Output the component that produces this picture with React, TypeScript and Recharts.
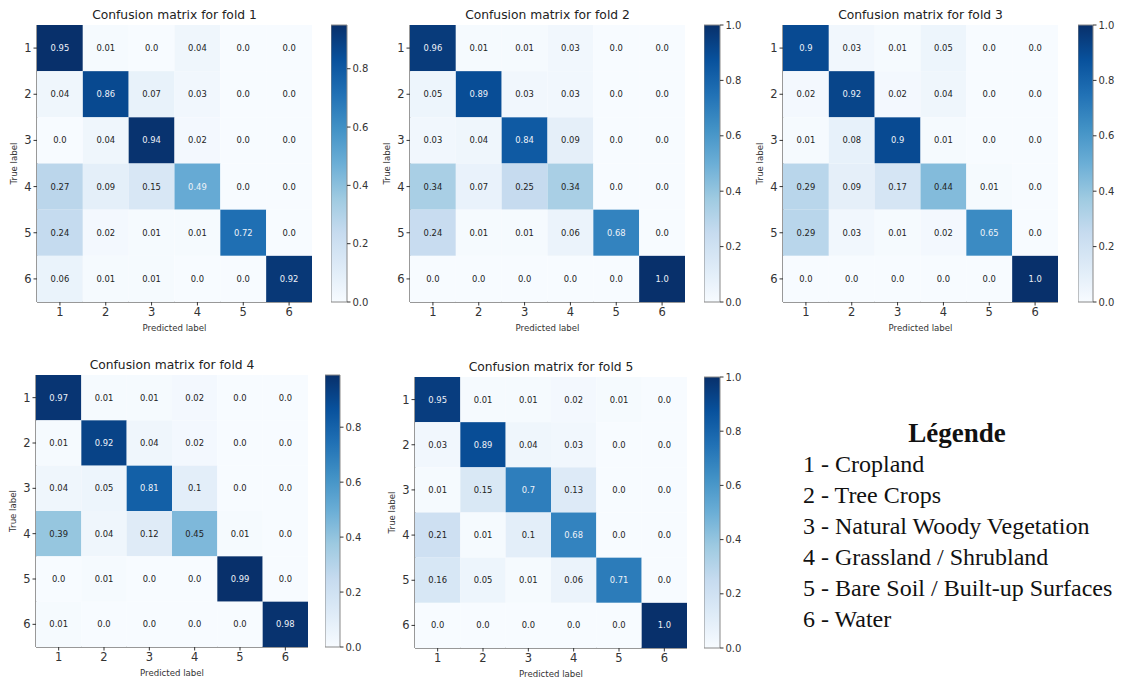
import React from 'react';
import { ScatterChart, Scatter, XAxis, YAxis, BarChart, Bar } from 'recharts';

const classLabels = [1, 2, 3, 4, 5, 6];

const fold1 = [
  [0.95, 0.01, 0.0, 0.04, 0.0, 0.0],
  [0.04, 0.86, 0.07, 0.03, 0.0, 0.0],
  [0.0, 0.04, 0.94, 0.02, 0.0, 0.0],
  [0.27, 0.09, 0.15, 0.49, 0.0, 0.0],
  [0.24, 0.02, 0.01, 0.01, 0.72, 0.0],
  [0.06, 0.01, 0.01, 0.0, 0.0, 0.92],
];
const fold2 = [
  [0.96, 0.01, 0.01, 0.03, 0.0, 0.0],
  [0.05, 0.89, 0.03, 0.03, 0.0, 0.0],
  [0.03, 0.04, 0.84, 0.09, 0.0, 0.0],
  [0.34, 0.07, 0.25, 0.34, 0.0, 0.0],
  [0.24, 0.01, 0.01, 0.06, 0.68, 0.0],
  [0.0, 0.0, 0.0, 0.0, 0.0, 1.0],
];
const fold3 = [
  [0.9, 0.03, 0.01, 0.05, 0.0, 0.0],
  [0.02, 0.92, 0.02, 0.04, 0.0, 0.0],
  [0.01, 0.08, 0.9, 0.01, 0.0, 0.0],
  [0.29, 0.09, 0.17, 0.44, 0.01, 0.0],
  [0.29, 0.03, 0.01, 0.02, 0.65, 0.0],
  [0.0, 0.0, 0.0, 0.0, 0.0, 1.0],
];
const fold4 = [
  [0.97, 0.01, 0.01, 0.02, 0.0, 0.0],
  [0.01, 0.92, 0.04, 0.02, 0.0, 0.0],
  [0.04, 0.05, 0.81, 0.1, 0.0, 0.0],
  [0.39, 0.04, 0.12, 0.45, 0.01, 0.0],
  [0.0, 0.01, 0.0, 0.0, 0.99, 0.0],
  [0.01, 0.0, 0.0, 0.0, 0.0, 0.98],
];
const fold5 = [
  [0.95, 0.01, 0.01, 0.02, 0.01, 0.0],
  [0.03, 0.89, 0.04, 0.03, 0.0, 0.0],
  [0.01, 0.15, 0.7, 0.13, 0.0, 0.0],
  [0.21, 0.01, 0.1, 0.68, 0.0, 0.0],
  [0.16, 0.05, 0.01, 0.06, 0.71, 0.0],
  [0.0, 0.0, 0.0, 0.0, 0.0, 1.0],
];

const folds = [fold1, fold2, fold3, fold4, fold5];
const foldTitles = [
  'Confusion matrix for fold 1',
  'Confusion matrix for fold 2',
  'Confusion matrix for fold 3',
  'Confusion matrix for fold 4',
  'Confusion matrix for fold 5',
];
const colorbarTicks = [0, 0.2, 0.4, 0.6, 0.8, 1.0];
const xAxisTitle = 'Predicted label';
const yAxisTitle = 'True label';
const legendTitle = 'Légende';
const legendItems = [
  '1 - Cropland',
  '2 - Tree Crops',
  '3 - Natural Woody Vegetation',
  '4 - Grassland / Shrubland',
  '5 - Bare Soil / Built-up Surfaces',
  '6 - Water',
];

const BLUES = ['#f7fbff', '#deebf7', '#c6dbef', '#9ecae1', '#6baed6', '#4292c6', '#2171b5', '#08519c', '#08306b'];

function hexToRgb(h: string) {
  return [parseInt(h.slice(1, 3), 16), parseInt(h.slice(3, 5), 16), parseInt(h.slice(5, 7), 16)];
}
function blues(t: number) {
  const tt = Math.max(0, Math.min(1, t));
  const p = tt * (BLUES.length - 1);
  const i = Math.min(BLUES.length - 2, Math.floor(p));
  const f = p - i;
  const a = hexToRgb(BLUES[i]);
  const b = hexToRgb(BLUES[i + 1]);
  const c = a.map((v, k) => Math.round(v + (b[k] - v) * f));
  return `rgb(${c[0]},${c[1]},${c[2]})`;
}
function fmt(v: number) {
  const s = String(v);
  return s.includes('.') ? s : s + '.0';
}

const layouts = [
  { plotLeft: 37, plotTop: 25, plotW: 275, plotH: 277, cbLeft: 331, cbW: 16 },
  { plotLeft: 410, plotTop: 25, plotW: 275, plotH: 277, cbLeft: 704, cbW: 16 },
  { plotLeft: 783, plotTop: 25, plotW: 275, plotH: 277, cbLeft: 1078, cbW: 15 },
  { plotLeft: 36, plotTop: 375, plotW: 272, plotH: 272, cbLeft: 325, cbW: 15 },
  { plotLeft: 415, plotTop: 377, plotW: 272, plotH: 271, cbLeft: 704, cbW: 16 },
];

const FONT = '"DejaVu Sans", sans-serif';
const INK = '#333';

function Panel({ idx }: { idx: number }) {
  const m = folds[idx];
  const L = layouts[idx];
  const vmax = Math.max(...m.flat());
  const data = m.flatMap((row, r) => row.map((v, c) => ({ x: classLabels[c], y: classLabels[r], v })));
  const domain: [number, number] = [0.5, classLabels.length + 0.5];
  const cw = L.plotW / (domain[1] - domain[0]);
  const ch = L.plotH / (domain[1] - domain[0]);
  const YW = 30, ML = 10, MT = 6, MR = 2, MB = 32;

  const shape = (p: any) => {
    const { cx, cy, payload } = p;
    return (
      <g>
        <rect x={cx - cw / 2} y={cy - ch / 2} width={cw} height={ch} fill={blues(payload.v / vmax)} />
        <text
          x={cx}
          y={cy}
          dy="0.35em"
          textAnchor="middle"
          fontSize={8.4}
          fontFamily={FONT}
          fill={payload.v > vmax / 2 ? '#eef2f8' : '#222'}
        >
          {fmt(payload.v)}
        </text>
      </g>
    );
  };

  const cbTicks = colorbarTicks.filter((t) => t <= vmax + 1e-9);

  return (
    <>
      <div
        style={{
          position: 'absolute',
          left: L.plotLeft,
          top: L.plotTop - 18,
          width: L.plotW,
          textAlign: 'center',
          fontFamily: FONT,
          fontSize: 12.3,
          lineHeight: '16px',
          color: '#222',
        }}
      >
        {foldTitles[idx]}
      </div>
      <div style={{ position: 'absolute', left: L.plotLeft - YW - ML, top: L.plotTop - MT, fontFamily: FONT }}>
        <ScatterChart
          width={ML + YW + L.plotW + MR}
          height={MT + L.plotH + MB}
          margin={{ top: MT, right: MR, bottom: 0, left: ML }}
        >
          <XAxis
            type="number"
            dataKey="x"
            domain={domain}
            ticks={classLabels}
            interval={0}
            allowDataOverflow
            height={MB}
            tickSize={3.5}
            tickLine={{ stroke: INK }}
            axisLine={{ stroke: INK }}
            tick={{ fontSize: 11.5, fill: INK }}
            label={{ value: xAxisTitle, position: 'insideBottom', offset: 3, fontSize: 8.6, fill: INK }}
          />
          <YAxis
            type="number"
            dataKey="y"
            domain={domain}
            reversed
            ticks={classLabels}
            interval={0}
            allowDataOverflow
            width={YW}
            tickSize={3.5}
            tickLine={{ stroke: INK }}
            axisLine={{ stroke: INK }}
            tick={{ fontSize: 11.5, fill: INK }}
            label={{
              value: yAxisTitle,
              angle: -90,
              position: 'insideLeft',
              offset: 7,
              fontSize: 8.6,
              fill: INK,
              style: { textAnchor: 'middle' },
            }}
          />
          <XAxis xAxisId="top" orientation="top" type="number" domain={[0, 1]} height={0} tick={false} tickLine={false} axisLine={{ stroke: INK }} />
          <YAxis yAxisId="right" orientation="right" type="number" domain={[0, 1]} width={0} tick={false} tickLine={false} axisLine={{ stroke: INK }} />
          <Scatter data={data} shape={shape} isAnimationActive={false} />
        </ScatterChart>
      </div>
      <div style={{ position: 'absolute', left: L.cbLeft, top: L.plotTop - MT, fontFamily: FONT }}>
        <BarChart
          width={L.cbW + 40}
          height={L.plotH + MT * 2}
          data={[{ name: 'cb', v: vmax }]}
          margin={{ top: MT, right: 0, bottom: MT, left: 0 }}
          barCategoryGap={0}
        >
          <XAxis dataKey="name" hide />
          <YAxis
            orientation="right"
            type="number"
            domain={[0, vmax]}
            ticks={cbTicks}
            interval={0}
            width={40}
            tickSize={3.5}
            tickLine={{ stroke: INK }}
            axisLine={false}
            tick={{ fontSize: 10, fill: INK }}
            tickFormatter={(t: number) => t.toFixed(1)}
          />
          <Bar dataKey="v" fill={`url(#blues-grad)`} stroke="#888" strokeWidth={1} isAnimationActive={false} />
        </BarChart>
      </div>
    </>
  );
}

export default function App() {
  return (
    <div style={{ position: 'absolute', left: 0, top: 0, width: 1121, height: 681, background: '#fff', overflow: 'hidden' }}>
      <svg width={0} height={0} style={{ position: 'absolute' }}>
        <defs>
          <linearGradient id="blues-grad" x1="0" y1="1" x2="0" y2="0">
            {BLUES.map((c, i) => (
              <stop key={i} offset={i / (BLUES.length - 1)} stopColor={c} />
            ))}
          </linearGradient>
        </defs>
      </svg>
      {folds.map((_, i) => (
        <Panel key={i} idx={i} />
      ))}
      <svg width={1121} height={681} style={{ position: 'absolute', left: 0, top: 0, pointerEvents: 'none' }}>
        <text x={957} y={442} textAnchor="middle" fontFamily='"Liberation Serif", serif' fontWeight="bold" fontSize={27} fill="#111">
          {legendTitle}
        </text>
        {legendItems.map((s, i) => (
          <text key={i} x={803} y={472 + 31 * i} fontFamily='"Liberation Serif", serif' fontSize={24} fill="#111">
            {s}
          </text>
        ))}
      </svg>
    </div>
  );
}
